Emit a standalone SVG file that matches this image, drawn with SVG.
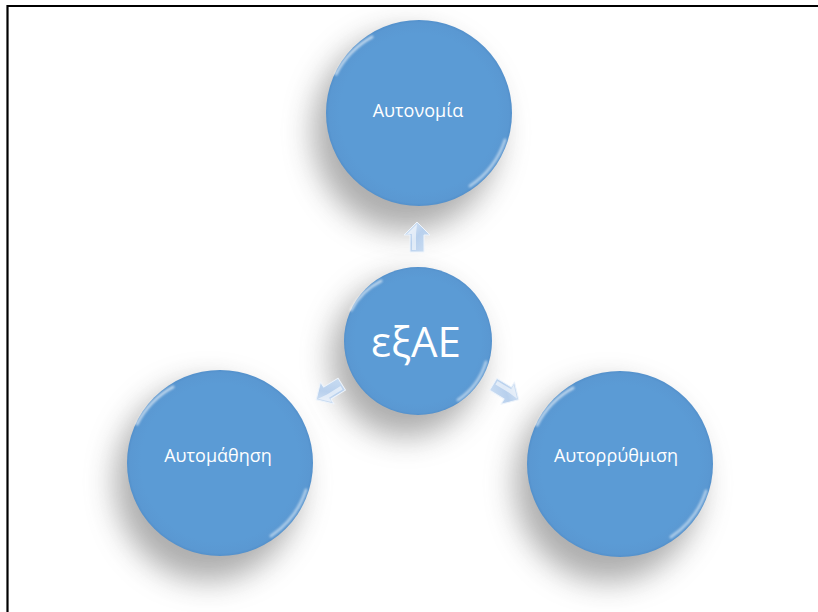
<svg xmlns="http://www.w3.org/2000/svg" width="818" height="612" viewBox="0 0 818 612">
  <defs>
    <style>
      .lbl { font-family: "Open Sans", "Noto Sans", "DejaVu Sans", sans-serif; fill: #ffffff; text-anchor: middle; }
      .ball { fill: url(#ballGrad); }
      .shadow { fill: #6a6a6a; opacity: 0.55; filter: url(#blurBig); }
      .rim { fill: none; stroke: #ffffff; stroke-width: 3; stroke-linecap: round; filter: url(#blurSmall); }
      .arrow { fill: url(#arrowGrad); stroke: #eef4fb; stroke-width: 1; stroke-linejoin: round; }
      .facet { fill: #ffffff; opacity: 0.55; }
    </style>
    <radialGradient id="ballGrad" cx="0.5" cy="0.5" r="0.5">
      <stop offset="0.85" stop-color="#5b9bd5"/>
      <stop offset="0.97" stop-color="#5a98d2"/>
      <stop offset="1" stop-color="#5390cb"/>
    </radialGradient>
    <linearGradient id="arrowGrad" x1="0" y1="0" x2="1" y2="1">
      <stop offset="0" stop-color="#dde9f7"/>
      <stop offset="0.5" stop-color="#b8d0ed"/>
      <stop offset="1" stop-color="#cddff3"/>
    </linearGradient>
    <filter id="blurBig" x="-50%" y="-50%" width="200%" height="200%">
      <feGaussianBlur stdDeviation="15"/>
    </filter>
    <filter id="blurSmall" x="-20%" y="-20%" width="140%" height="140%">
      <feGaussianBlur stdDeviation="1.2"/>
    </filter>
    <path id="arr" d="M0,-15 L13,-2 L7,-2 L7,15 L-7,15 L-7,-2 L-13,-2 Z"/>
    <path id="arrFacet" d="M0,-13 L-10,-3 L-5,-3 L-5,13 L-1,13 L-1,-3 Z"/>
  </defs>

  <rect x="0" y="0" width="818" height="612" fill="#ffffff"/>
  <!-- page border (top and left) -->
  <path d="M7.5,612 L7.5,6 L818,6" fill="none" stroke="#000000" stroke-width="2.2"/>

  <!-- shadows -->
  <g id="shadows">
    <ellipse class="shadow" cx="406" cy="132" rx="93" ry="99"/>
    <ellipse class="shadow" cx="406" cy="358" rx="75" ry="79"/>
    <ellipse class="shadow" cx="208" cy="482" rx="93" ry="99"/>
    <ellipse class="shadow" cx="608" cy="483" rx="93" ry="99"/>
  </g>

  <!-- connectors -->
  <g id="connectors">
    <g transform="translate(417,237)"><use href="#arr" class="arrow"/><use href="#arrFacet" class="facet"/></g>
    <g transform="translate(329,392) rotate(-121.6)"><use href="#arr" class="arrow"/><use href="#arrFacet" class="facet"/></g>
    <g transform="translate(506,392) rotate(121.3)"><use href="#arr" class="arrow"/><use href="#arrFacet" class="facet"/></g>
  </g>

  <g id="node-autonomia">
    <circle class="ball" cx="419" cy="113" r="93"/>
    <path class="rim" d="M336,74 A89,89 0 0 1 372,37" opacity="0.6"/>
    <path class="rim" d="M505,140 A89,89 0 0 1 470,186" opacity="0.5"/>
    <text class="lbl" x="418" y="117" font-size="18">Αυτονομία</text>
  </g>

  <g id="node-exae">
    <circle class="ball" cx="418" cy="341" r="74"/>
    <path class="rim" d="M351,310 A70,70 0 0 1 381,281" opacity="0.6"/>
    <path class="rim" d="M486,362 A70,70 0 0 1 458,400" opacity="0.5"/>
    <text class="lbl" x="416" y="357" font-size="42">εξΑΕ</text>
  </g>

  <g id="node-automathisi">
    <circle class="ball" cx="220" cy="463" r="93"/>
    <path class="rim" d="M137,424 A89,89 0 0 1 173,387" opacity="0.6"/>
    <path class="rim" d="M306,490 A89,89 0 0 1 271,536" opacity="0.5"/>
    <text class="lbl" x="218" y="462" font-size="18">Αυτομάθηση</text>
  </g>

  <g id="node-autorrythmisi">
    <circle class="ball" cx="620" cy="464" r="93"/>
    <path class="rim" d="M537,425 A89,89 0 0 1 573,388" opacity="0.6"/>
    <path class="rim" d="M706,491 A89,89 0 0 1 671,537" opacity="0.5"/>
    <text class="lbl" x="616" y="462" font-size="18">Αυτορρύθμιση</text>
  </g>
</svg>
